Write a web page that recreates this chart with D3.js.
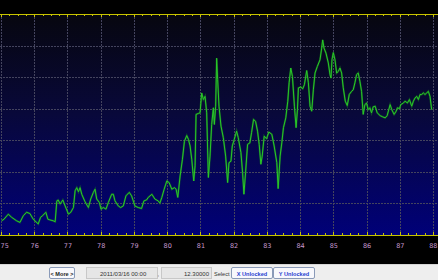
<!DOCTYPE html>
<html>
<head>
<meta charset="utf-8">
<script src="https://d3js.org/d3.v7.min.js"></script>
<style>
  html, body { margin: 0; padding: 0; background: #000; overflow: hidden; }
  svg { display: block; font-family: "Liberation Sans", Arial, sans-serif; }
  .grid line { stroke: #44445e; stroke-dasharray: 2,1; shape-rendering: crispEdges; }
  .grid path { display: none; }
  .rim path, .rim line { stroke: #c8c400; shape-rendering: crispEdges; }
  .labels path { display: none; }
  .labels text { fill: #c79ad0; font-size: 6.5px; font-family: "DejaVu Sans", sans-serif; }
</style>
</head>
<body>
<svg width="438" height="280"></svg>
<script>
const times = [
  1975.02, 1975.09, 1975.22, 1975.32, 1975.47, 1975.57, 1975.67, 1975.77, 1975.87, 1975.97,
  1976.12, 1976.19, 1976.25, 1976.35, 1976.41, 1976.47, 1976.57, 1976.63, 1976.68, 1976.72,
  1976.78, 1976.86, 1976.93, 1977.03, 1977.10, 1977.18, 1977.23, 1977.28, 1977.33, 1977.38,
  1977.43, 1977.53, 1977.63, 1977.70, 1977.78, 1977.83, 1977.88, 1977.96, 1978.01, 1978.08,
  1978.16, 1978.23, 1978.33, 1978.38, 1978.43, 1978.53, 1978.60, 1978.68, 1978.76, 1978.86,
  1978.93, 1979.03, 1979.13, 1979.23, 1979.30, 1979.38, 1979.43, 1979.54, 1979.63, 1979.73,
  1979.78, 1979.84, 1979.91, 1979.99, 1980.06, 1980.14, 1980.22, 1980.27, 1980.32, 1980.39,
  1980.46, 1980.52, 1980.59, 1980.64, 1980.69, 1980.74, 1980.80, 1980.84, 1980.87, 1980.94,
  1980.99, 1981.04, 1981.09, 1981.14, 1981.19, 1981.24, 1981.29, 1981.34, 1981.39, 1981.42,
  1981.46, 1981.49, 1981.52, 1981.56, 1981.62, 1981.69, 1981.76, 1981.82, 1981.86, 1981.92,
  1981.96, 1982.02, 1982.09, 1982.14, 1982.22, 1982.27, 1982.31, 1982.36, 1982.42, 1982.49,
  1982.54, 1982.60, 1982.66, 1982.72, 1982.77, 1982.82, 1982.86, 1982.92, 1982.99, 1983.06,
  1983.15, 1983.22, 1983.30, 1983.34, 1983.40, 1983.45, 1983.50, 1983.57, 1983.63, 1983.67,
  1983.72, 1983.77, 1983.83, 1983.88, 1983.92, 1983.95, 1984.02, 1984.08, 1984.13, 1984.20,
  1984.25, 1984.30, 1984.35, 1984.40, 1984.45, 1984.52, 1984.60, 1984.65, 1984.68, 1984.72,
  1984.78, 1984.85, 1984.90, 1984.93, 1984.96, 1985.00, 1985.05, 1985.10, 1985.15, 1985.20,
  1985.25, 1985.30, 1985.36, 1985.42, 1985.48, 1985.55, 1985.60, 1985.65, 1985.70, 1985.75,
  1985.80, 1985.85, 1985.90, 1985.95, 1986.00, 1986.05, 1986.10, 1986.15, 1986.20, 1986.26,
  1986.32, 1986.41, 1986.49, 1986.56, 1986.62, 1986.71, 1986.76, 1986.83, 1986.89, 1986.93,
  1986.99, 1987.03, 1987.11, 1987.16, 1987.23, 1987.29, 1987.36, 1987.41, 1987.46, 1987.51,
  1987.56, 1987.61, 1987.66, 1987.71, 1987.76, 1987.81, 1987.86, 1987.91, 1987.96
];
const values = [
  4.5, 5.0, 6.6, 5.6, 4.5, 4.0, 6.1, 7.2, 6.8, 5.0,
  3.5, 5.6, 6.1, 7.2, 5.0, 4.8, 4.5, 4.2, 10.8, 11.1,
  9.8, 11.1, 9.2, 6.6, 7.2, 8.7, 14.0, 15.0, 13.7, 15.0,
  12.9, 10.5, 8.7, 11.4, 13.5, 14.5, 11.4, 10.3, 8.2, 8.7,
  8.2, 10.3, 12.9, 12.9, 10.8, 9.2, 8.7, 9.2, 12.4, 13.5,
  12.4, 9.2, 8.7, 8.4, 10.8, 11.1, 11.9, 12.9, 11.4, 10.8,
  10.1, 11.9, 14.5, 17.1, 16.6, 14.5, 15.0, 14.5, 11.9, 18.7,
  24.0, 29.7, 31.5, 30.3, 28.2, 24.0, 17.1, 21.9, 38.2, 38.5,
  38.7, 45.0, 42.9, 43.9, 38.7, 18.2, 25.0, 35.0, 40.3, 35.0,
  40.8, 56.0, 49.2, 40.8, 34.5, 30.8, 25.0, 16.6, 22.9, 23.4,
  28.2, 30.3, 32.9, 30.8, 26.1, 19.8, 12.9, 19.8, 28.7, 29.2,
  32.4, 36.6, 36.0, 32.9, 28.7, 22.4, 25.0, 31.3, 30.5, 32.6,
  31.9, 28.2, 22.9, 14.7, 25.0, 29.2, 34.0, 37.1, 42.4, 48.2,
  52.9, 50.2, 40.8, 34.0, 39.7, 46.6, 46.9, 46.3, 47.6, 52.1,
  48.2, 40.8, 39.2, 46.0, 51.3, 53.4, 55.5, 59.2, 61.8, 59.2,
  57.6, 54.5, 50.8, 49.7, 55.5, 57.8, 55.5, 51.3, 51.8, 52.9,
  51.3, 46.6, 42.4, 41.0, 44.5, 45.5, 46.0, 48.2, 50.8, 51.3,
  48.7, 45.5, 38.2, 41.3, 41.8, 39.7, 40.3, 38.7, 40.6, 40.8,
  38.7, 37.8, 37.4, 37.1, 37.8, 41.3, 39.7, 38.2, 39.2, 40.3,
  40.0, 41.3, 41.8, 42.4, 41.8, 42.9, 40.8, 42.4, 43.4, 43.9,
  42.9, 44.5, 44.5, 45.0, 44.5, 45.0, 45.5, 43.9, 39.7
];
const yearTicks = d3.range(1975, 1989);
const yearLabels = ['75', '76', '77', '78', '79', '80', '81', '82', '83', '84', '85', '86', '87', '88'];
const valueTicks = [0, 10, 20, 30, 40, 50, 60, 70];

const W = 438, H = 280;
const plotTop = 14, plotBottom = 235;

const svg = d3.select('svg');

const x = d3.scaleLinear().domain([1975, 1988]).range([1, 433]);
const y = d3.scaleLinear().domain([0, 70]).range([plotBottom, plotTop]);

const defs = svg.append('defs');
const grad = defs.append('linearGradient')
  .attr('id', 'bg').attr('x1', 0).attr('y1', 0).attr('x2', 0).attr('y2', 1);
grad.append('stop').attr('offset', '0%').attr('stop-color', '#07070f');
grad.append('stop').attr('offset', '45%').attr('stop-color', '#08083a');
grad.append('stop').attr('offset', '100%').attr('stop-color', '#000078');

svg.append('rect')
  .attr('x', 0).attr('y', plotTop)
  .attr('width', W).attr('height', plotBottom - plotTop)
  .attr('fill', 'url(#bg)');

// grid
svg.append('g')
  .attr('class', 'grid')
  .attr('transform', `translate(0, ${plotBottom})`)
  .call(d3.axisBottom(x).tickValues(yearTicks).tickSize(-(plotBottom - plotTop)).tickFormat(''));

svg.append('g')
  .attr('class', 'grid')
  .call(d3.axisRight(y).tickValues(valueTicks.slice(1, -1)).tickSize(W).tickFormat(''));

// the line
const line = d3.line()
  .x((d, i) => x(times[i]))
  .y(d => y(d));

svg.append('path')
  .datum(values)
  .attr('fill', 'none')
  .attr('stroke', '#178a17')
  .attr('stroke-width', 2)
  .attr('stroke-opacity', 0.5)
  .attr('d', line);

svg.append('path')
  .datum(values)
  .attr('fill', 'none')
  .attr('stroke', '#29c829')
  .attr('stroke-width', 1)
  .attr('d', line);

// yellow rims with major and quarter ticks
const minor = d3.range(1975, 1988.3, 0.25).filter(v => v % 1 !== 0);
const rimTop = svg.append('g').attr('class', 'rim').attr('transform', `translate(0, ${plotTop})`);
rimTop.call(d3.axisBottom(x).tickValues(yearTicks).tickSize(3).tickSizeOuter(0).tickFormat(''));
rimTop.append('g').call(d3.axisBottom(x).tickValues(minor).tickSize(2).tickFormat(''))
  .select('.domain').remove();
rimTop.select('.domain').attr('d', `M0,0.5H${W}`);

const rimBottom = svg.append('g').attr('class', 'rim').attr('transform', `translate(0, ${plotBottom})`);
rimBottom.call(d3.axisTop(x).tickValues(yearTicks).tickSize(3).tickSizeOuter(0).tickFormat(''));
rimBottom.append('g').call(d3.axisTop(x).tickValues(minor).tickSize(2).tickFormat(''))
  .select('.domain').remove();
rimBottom.select('.domain').attr('d', `M0,0.5H${W}`);
svg.selectAll('.rim line').attr('stroke', '#c8c400');

// year labels
const labels = svg.append('g')
  .attr('class', 'labels')
  .attr('transform', `translate(0, ${plotBottom})`)
  .call(d3.axisBottom(x).tickValues(yearTicks).tickSize(0).tickPadding(8)
    .tickFormat((d, i) => yearLabels[i]));
labels.selectAll('line').remove();
// keep the first and last labels inside the window
labels.selectAll('text').filter((d, i) => i === 0).attr('text-anchor', 'start').attr('x', -1);
labels.selectAll('text').filter((d, i) => i === yearTicks.length - 1).attr('text-anchor', 'end').attr('x', 4);

// bottom control strip
const bar = svg.append('g').attr('transform', 'translate(0, 264)');
bar.append('rect').attr('width', W).attr('height', 16).attr('fill', '#eeeeee');
bar.append('line').attr('x1', 0).attr('x2', W).attr('y1', 0.5).attr('y2', 0.5)
  .attr('stroke', '#d6d6d6');

const button = (x0, w, label, color) => {
  const g = bar.append('g').attr('transform', `translate(${x0}, 3)`);
  g.append('rect').attr('x', 0.5).attr('y', 0.5).attr('width', w).attr('height', 11)
    .attr('rx', 1.5).attr('fill', '#f8f8fc').attr('stroke', '#8a9ab8');
  g.append('text').attr('x', w / 2 + 0.5).attr('y', 8.6).attr('text-anchor', 'middle')
    .attr('font-size', 5.6).attr('font-weight', 'bold').attr('fill', color).text(label);
};

const field = (x0, w, label, anchor) => {
  bar.append('rect').attr('x', x0 + 0.5).attr('y', 3.5).attr('width', w).attr('height', 11)
    .attr('fill', '#e6e6e6').attr('stroke', '#c8c8c8');
  bar.append('text')
    .attr('x', anchor === 'end' ? x0 + w - 2 : x0 + 14)
    .attr('y', 11.5).attr('text-anchor', anchor)
    .attr('font-size', 6).attr('fill', '#333').text(label);
};

button(49, 25, '< More >', '#222');
field(86, 71, '2011/03/16 00:00', 'start');
bar.append('text').attr('x', 157.5).attr('y', 12).attr('font-size', 6).attr('fill', '#333').text(',');
field(161, 50, '12.30000', 'end');
bar.append('text').attr('x', 214).attr('y', 11.5).attr('font-size', 5.6).attr('fill', '#333').text('Select');
button(231, 41, 'X Unlocked', '#1f3fd0');
button(273, 41, 'Y Unlocked', '#1f3fd0');
</script>
</body>
</html>
